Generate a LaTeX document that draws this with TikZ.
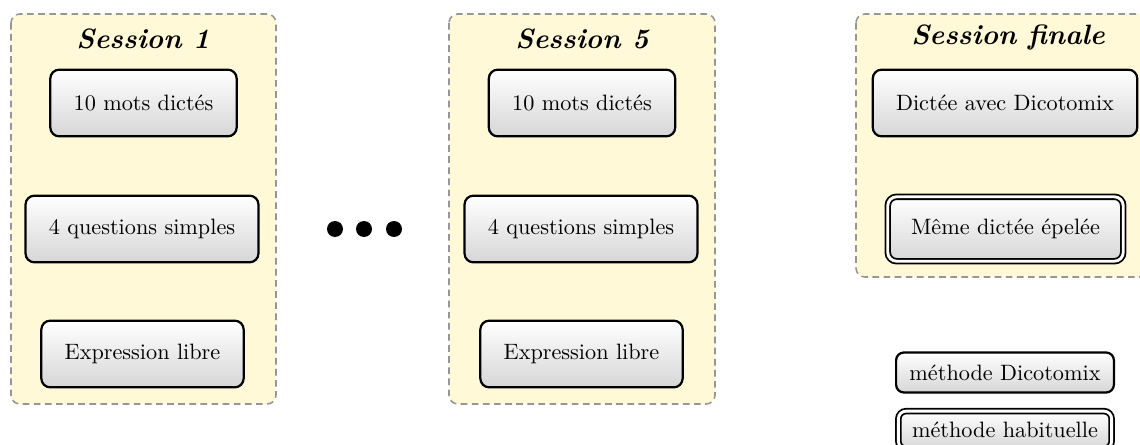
\documentclass[tikz,border=0pt]{standalone}
\usepackage{fontspec}
\usetikzlibrary{shadings}
\definecolor{panelfill}{RGB}{255,249,215}
\definecolor{panelline}{RGB}{150,150,150}
\tikzset{
  panel/.style={draw=panelline, fill=panelfill, dashed, dash pattern=on 3pt off 2pt, line width=0.7pt, rounded corners=4pt},
  title/.style={font=\fontsize{12.6pt}{15pt}\selectfont\bfseries\itshape},
  task/.style={draw=black, line width=1pt, rounded corners=4pt, top color=white, bottom color=black!16,
    minimum height=30pt, inner xsep=10.5pt, align=center},
  usual/.style={task, double, double distance=1.3pt, line width=0.8pt, minimum height=29pt},
  legend/.style={draw=black, line width=1pt, rounded corners=3.5pt, top color=white, bottom color=black!16,
    minimum height=18pt, minimum width=98pt, inner xsep=3pt},
  legendusual/.style={legend, double, double distance=1.3pt, line width=0.8pt, minimum width=96pt, minimum height=17pt},
  dot/.style={circle, fill=black, minimum size=7.2pt, inner sep=0pt}
}
\begin{document}
\begin{tikzpicture}[x=0.45pt,y=-0.45pt]
\useasboundingbox (0,0) rectangle (1140,445);
% panels
\draw[panel] (11,14) rectangle (276,404);
\draw[panel] (449,14) rectangle (715,404);
\draw[panel] (856,14) rectangle (1160,277);
% titles
\node[title] (t1) at (143,39) {Session 1};
\node[title] (t5) at (582,39) {Session 5};
\node[title] (tf) at (1008,37) {Session finale};
% session 1
\node[task] (a1) at (143.5,103) {10 mots dictés};
\node[task] (a2) at (142,229) {4 questions simples};
\node[task] (a3) at (142.5,354) {Expression libre};
% dots
\node[dot] (d1) at (335,229) {};
\node[dot] (d2) at (364,229) {};
\node[dot] (d3) at (394,229) {};
% session 5
\node[task] (b1) at (582,103) {10 mots dictés};
\node[task] (b2) at (581,229) {4 questions simples};
\node[task] (b3) at (581.5,354) {Expression libre};
% session finale
\node[task] (c1) at (1005,103) {Dictée avec Dicotomix};
\node[usual] (c2) at (1005.5,229) {Même dictée épelée};
% legend
\node[legend] (l1) at (1005,372.5) {méthode Dicotomix};
\node[legendusual] (l2) at (1005,430) {méthode habituelle};
\end{tikzpicture}
\end{document}
